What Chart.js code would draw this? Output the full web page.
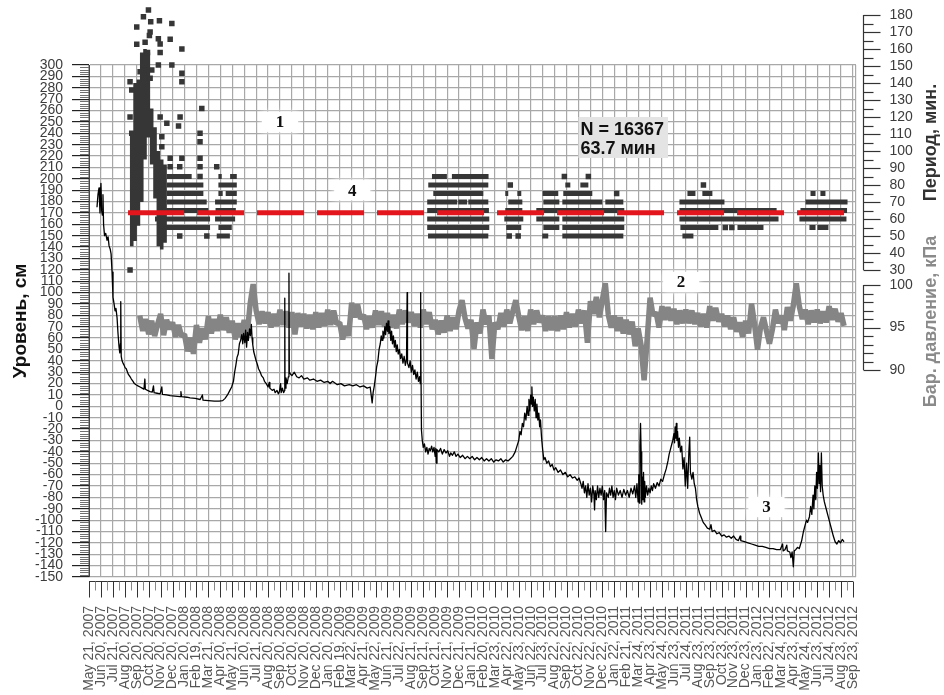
<!DOCTYPE html>
<html>
<head>
<meta charset="utf-8">
<script src="https://cdn.jsdelivr.net/npm/chart.js@4.4.1/dist/chart.umd.min.js"></script>
<style>
html, body { margin: 0; padding: 0; background: #fff; }
canvas { display: block; }
</style>
</head>
<body>
<canvas id="chart" width="944" height="695"></canvas>
<script>
// Month ticks (x = month index from May 21, 2007)
const monthLabels = [
  'May 21, 2007','Jun 20, 2007','Jul 21, 2007','Aug 20, 2007','Sep 20, 2007','Oct 20, 2007','Nov 20, 2007','Dec 20, 2007',
  'Jan 20, 2008','Feb 19, 2008','Mar 21, 2008','Apr 20, 2008','May 21, 2008','Jun 20, 2008','Jul 21, 2008','Aug 20, 2008',
  'Sep 20, 2008','Oct 20, 2008','Nov 20, 2008','Dec 20, 2008',
  'Jan 20, 2009','Feb 19, 2009','Mar 22, 2009','Apr 21, 2009','May 22, 2009','Jun 21, 2009','Jul 22, 2009','Aug 21, 2009',
  'Sep 21, 2009','Oct 21, 2009','Nov 21, 2009','Dec 21, 2009',
  'Jan 21, 2010','Feb 20, 2010','Mar 23, 2010','Apr 22, 2010','May 23, 2010','Jun 22, 2010','Jul 23, 2010','Aug 22, 2010',
  'Sep 22, 2010','Oct 22, 2010','Nov 22, 2010','Dec 22, 2010',
  'Jan 22, 2011','Feb 21, 2011','Mar 24, 2011','Apr 23, 2011','May 24, 2011','Jun 23, 2011','Jul 24, 2011','Aug 23, 2011',
  'Sep 23, 2011','Oct 23, 2011','Nov 23, 2011','Dec 23, 2011',
  'Jan 23, 2012','Feb 22, 2012','Mar 24, 2012','Apr 23, 2012','May 24, 2012','Jun 23, 2012','Jul 24, 2012','Aug 23, 2012',
  'Sep 23, 2012'
];

// Water level, cm: [month index, level]
const levelReadings = [
  [0.67,175],[0.75,186],[0.84,192],[0.92,170],[1.00,196],[1.06,172],[1.12,168],[1.17,186],[1.22,160],[1.30,150],
  [1.40,152],[1.51,146],[1.60,149],[1.68,141],[1.78,138],[1.85,134],[1.93,118],[2.01,96],[2.10,90],[2.18,84],
  [2.26,86],[2.35,78],[2.43,64],[2.52,52],[2.58,47],[2.63,55],[2.66,92],[2.70,44],[2.77,40],[2.85,38],
  [2.95,36],[3.02,34],[3.12,33],[3.19,31],[3.30,28],[3.44,26],[3.55,24],[3.69,22],[3.80,20],[3.94,19],
  [4.10,18],[4.28,17],[4.45,16],[4.60,15],[4.68,24],[4.72,15],[4.90,14],[5.12,13],[5.30,12.5],[5.40,18],
  [5.45,12],[5.70,11.5],[5.96,11],[6.10,17],[6.15,10.5],[6.50,10],[6.80,9.5],[7.20,9],[7.63,8.5],[7.70,13],
  [7.75,8.5],[8.20,8],[8.47,7.5],[8.90,7],[9.31,6],[9.50,10],[9.55,5.5],[10.00,5],[10.50,4.5],[10.90,4.5],
  [11.20,5],[11.40,7],[11.60,10],[11.80,14],[11.95,17],[12.10,22],[12.20,30],[12.30,36],[12.40,43],[12.50,46],
  [12.60,55],[12.70,58],[12.80,63],[12.88,55],[12.95,64],[13.05,56],[13.12,67],[13.20,52],[13.28,65],[13.35,58],
  [13.45,68],[13.52,62],[13.60,72],[13.66,60],[13.72,54],[13.80,48],[13.90,44],[14.00,40],[14.10,37],[14.20,33],
  [14.35,30],[14.45,27],[14.60,25],[14.70,22],[14.85,20],[15.00,17],[15.10,21],[15.15,16],[15.35,14],[15.50,15],
  [15.60,12],[15.75,14],[15.86,11],[15.95,13],[16.05,20],[16.10,12],[16.20,16],[16.30,12],[16.38,14],[16.40,95],
  [16.42,16],[16.50,25],[16.60,20],[16.70,26],[16.75,117],[16.78,30],[16.90,28],[17.00,27],[17.20,30],[17.40,26],
  [17.60,25],[17.80,27],[18.00,24],[18.30,25],[18.50,23],[18.80,24],[19.10,22],[19.40,23],[19.70,21],[20.00,22],
  [20.20,20],[20.40,22],[20.80,19],[21.10,20],[21.40,18],[21.80,19],[22.10,18],[22.40,19],[22.70,17],[23.00,18],
  [23.30,16],[23.55,17],[23.65,9],[23.72,3],[23.80,12],[23.90,18],[24.00,26],[24.10,35],[24.20,40],[24.30,50],
  [24.40,55],[24.48,62],[24.55,58],[24.62,66],[24.70,60],[24.78,70],[24.85,63],[24.92,73],[25.00,66],[25.05,75],
  [25.12,64],[25.20,70],[25.28,58],[25.35,66],[25.42,55],[25.50,62],[25.58,52],[25.66,58],[25.74,48],[25.82,54],
  [25.90,46],[26.00,50],[26.10,42],[26.20,46],[26.30,38],[26.40,44],[26.50,36],[26.60,42],[26.65,100],[26.68,38],
  [26.80,34],[26.90,40],[27.00,30],[27.10,36],[27.20,28],[27.30,32],[27.40,24],[27.50,30],[27.60,22],[27.70,26],
  [27.75,20],[27.77,100],[27.80,60],[27.85,-21],[27.92,-30],[28.00,-36],[28.10,-33],[28.20,-40],[28.30,-36],[28.40,-42],
  [28.50,-37],[28.60,-39],[28.70,-35],[28.80,-40],[28.90,-36],[29.00,-44],[29.05,-37],[29.10,-50],[29.15,-38],[29.30,-40],
  [29.45,-37],[29.60,-42],[29.75,-38],[29.90,-41],[30.05,-39],[30.20,-44],[30.30,-41],[30.45,-43],[30.60,-40],[30.75,-44],
  [30.90,-42],[31.10,-45],[31.30,-43],[31.50,-46],[31.70,-44],[31.90,-46],[32.10,-44],[32.30,-47],[32.50,-45],[32.70,-47],
  [32.90,-45],[33.10,-48],[33.30,-46],[33.50,-48],[33.70,-46],[33.90,-49],[34.10,-47],[34.30,-48],[34.50,-46],[34.70,-49],
  [34.90,-47],[35.10,-48],[35.30,-46],[35.50,-44],[35.70,-40],[35.85,-35],[36.00,-30],[36.10,-22],[36.20,-25],[36.30,-15],
  [36.40,-18],[36.50,-6],[36.60,-12],[36.70,0],[36.78,-8],[36.85,6],[36.92,-4],[37.00,10],[37.06,2],[37.10,17],
  [37.15,0],[37.22,8],[37.30,-4],[37.38,6],[37.45,-10],[37.52,2],[37.60,-12],[37.68,-6],[37.75,-18],[37.82,-12],
  [37.90,-26],[38.00,-38],[38.10,-47],[38.20,-45],[38.35,-50],[38.50,-48],[38.65,-53],[38.80,-51],[38.95,-56],[39.10,-54],
  [39.30,-58],[39.50,-56],[39.70,-60],[39.90,-58],[40.10,-62],[40.30,-60],[40.50,-63],[40.70,-62],[40.90,-65],[41.05,-63],
  [41.20,-68],[41.30,-72],[41.40,-66],[41.50,-76],[41.60,-70],[41.70,-80],[41.80,-68],[41.90,-78],[42.00,-72],[42.10,-84],
  [42.20,-70],[42.30,-78],[42.35,-91],[42.40,-74],[42.50,-82],[42.60,-70],[42.70,-80],[42.80,-72],[42.90,-78],[43.00,-70],
  [43.10,-82],[43.20,-74],[43.28,-110],[43.35,-76],[43.50,-80],[43.60,-72],[43.70,-78],[43.80,-70],[43.90,-80],[44.00,-74],
  [44.10,-82],[44.20,-72],[44.35,-78],[44.50,-74],[44.65,-80],[44.80,-73],[44.95,-78],[45.10,-74],[45.25,-80],[45.40,-72],
  [45.55,-77],[45.70,-70],[45.80,-80],[45.90,-68],[46.00,-84],[46.05,-60],[46.10,-85],[46.15,-35],[46.20,-15],[46.25,-40],
  [46.30,-86],[46.35,-62],[46.40,-82],[46.45,-58],[46.50,-84],[46.55,-66],[46.60,-80],[46.70,-70],[46.80,-78],[46.90,-72],
  [47.00,-76],[47.10,-70],[47.20,-74],[47.30,-68],[47.45,-72],[47.60,-67],[47.75,-70],[47.90,-64],[48.05,-66],[48.20,-60],
  [48.35,-55],[48.50,-48],[48.60,-42],[48.70,-38],[48.80,-34],[48.90,-30],[49.00,-24],[49.05,-32],[49.10,-18],[49.15,-28],
  [49.20,-15],[49.25,-30],[49.30,-22],[49.38,-36],[49.45,-28],[49.55,-40],[49.65,-35],[49.75,-55],[49.85,-45],[49.95,-70],
  [50.05,-50],[50.15,-72],[50.25,-40],[50.32,-27],[50.38,-58],[50.50,-64],[50.60,-58],[50.70,-68],[50.80,-72],[50.90,-82],
  [51.00,-88],[51.15,-94],[51.30,-98],[51.45,-102],[51.60,-104],[51.80,-107],[52.00,-108],[52.10,-104],[52.20,-110],[52.40,-109],
  [52.60,-112],[52.80,-111],[53.00,-114],[53.20,-113],[53.40,-115],[53.60,-114],[53.80,-116],[54.00,-114],[54.20,-117],[54.40,-118],
  [54.55,-114],[54.60,-118],[54.90,-119],[55.20,-120],[55.50,-121],[55.80,-122],[56.10,-123],[56.40,-123],[56.70,-124],[57.00,-125],
  [57.30,-125],[57.60,-126],[57.90,-126],[58.10,-121],[58.15,-127],[58.30,-126],[58.45,-122],[58.50,-127],[58.70,-128],[58.80,-133],
  [58.90,-128],[59.00,-141],[59.08,-127],[59.20,-126],[59.35,-124],[59.50,-125],[59.70,-118],[59.85,-110],[60.00,-104],[60.10,-100],
  [60.20,-102],[60.35,-97],[60.45,-88],[60.55,-95],[60.65,-78],[60.72,-90],[60.80,-70],[60.88,-82],[60.95,-58],[61.02,-72],
  [61.10,-41],[61.16,-68],[61.22,-52],[61.28,-75],[61.35,-41],[61.42,-70],[61.50,-78],[61.60,-84],[61.75,-90],[61.90,-96],
  [62.05,-102],[62.20,-108],[62.35,-114],[62.50,-119],[62.65,-121],[62.80,-118],[62.95,-120],[63.10,-117],[63.25,-119]
];

// Barometric pressure, kPa: readings every quarter month from month 4.25
const pressureStart = 4.25;
const pressureStep = 0.25;
const pressureKPa = [
  96.4, 94.6, 96.0,
  94.2, 95.8, 94.0, 95.4,
  96.6, 94.1, 95.9, 94.8,
  95.6, 93.9, 95.3, 94.0,
  94.2, 92.2, 93.8, 91.9,
  95.3, 93.2, 94.9, 93.6,
  96.3, 94.3, 96.0, 94.6,
  96.5, 94.7, 96.2, 94.4,
  95.8, 93.6, 95.5, 93.9,
  95.9, 94.2, 97.8, 100.1,
  97.0, 95.4, 96.9, 95.5,
  96.8, 95.0, 96.6, 95.2,
  97.1, 95.3, 96.9, 95.0,
  96.8, 94.2, 96.7, 95.1,
  96.6, 94.9, 96.5, 94.8,
  96.8, 95.0, 96.7, 95.2,
  97.1, 95.3, 97.0, 95.4,
  95.6, 93.6, 95.2, 94.0,
  97.9, 96.2, 97.7, 96.0,
  96.5, 94.8, 96.3, 95.0,
  97.0, 95.3, 96.9, 95.1,
  96.7, 95.0, 96.5, 94.9,
  97.1, 95.4, 97.0, 95.6,
  96.8, 95.2, 96.6, 95.0,
  97.1, 95.4, 96.8, 94.8,
  95.9, 94.2, 95.8, 94.4,
  96.4, 94.6, 96.2, 94.8,
  97.0, 98.2, 96.1, 94.9,
  95.9, 92.5, 95.6, 94.3,
  97.1, 95.4, 96.4, 91.3,
  95.6, 94.8, 96.7, 95.1,
  97.1, 95.5, 96.9, 98.2,
  96.3, 94.7, 96.3, 94.6,
  97.1, 95.4, 97.0, 95.6,
  96.4, 94.6, 96.3, 94.7,
  96.3, 94.6, 96.4, 94.8,
  96.8, 95.0, 96.6, 95.1,
  97.1, 95.5, 97.0, 93.2,
  98.1, 96.6, 98.6, 96.2,
  98.2, 100.2, 96.5, 95.0,
  96.4, 94.6, 96.2, 94.3,
  95.9, 94.2, 95.7, 92.8,
  94.9, 92.9, 88.8, 93.5,
  98.5, 96.4, 96.8, 95.0,
  97.5, 95.9, 97.4, 95.8,
  97.2, 95.4, 97.0, 95.5,
  97.1, 95.5, 97.0, 95.4,
  96.7, 95.1, 96.6, 95.0,
  97.5, 95.8, 97.3, 95.7,
  96.6, 95.1, 96.4, 94.8,
  96.2, 94.5, 95.6, 93.9,
  95.8, 94.3, 97.8, 95.4,
  92.4, 95.0, 96.2, 94.6,
  93.1, 94.8, 97.1, 95.5,
  96.4, 94.7, 97.4, 95.8,
  97.6, 100.2, 97.5, 96.0,
  97.1, 95.4, 97.0, 95.6,
  97.1, 95.5, 96.9, 95.6,
  97.5, 95.9, 97.2, 95.7,
  96.7, 95.2
];

// Oscillation periods, min: continuous runs [period, from month, to month]
const periodRuns = [
  [85, 6.51, 8.6], [85, 10.84, 11.12], [85, 11.82, 12.38],
  [80, 6.51, 9.58], [80, 10.84, 12.38],
  [75, 6.51, 9.58], [75, 10.84, 11.2], [75, 11.45, 12.38],
  [70, 6.51, 9.86], [70, 10.56, 12.38],
  [65, 6.3, 10.0], [65, 10.6, 12.3],
  [60, 5.53, 10.14], [60, 10.56, 12.24],
  [55, 6.23, 10.14], [55, 10.84, 11.96],
  [50, 10.7, 11.8],
  [85, 28.73, 29.98], [85, 30.40, 33.47],
  [80, 28.42, 33.45],
  [75, 28.84, 33.03],
  [70, 28.33, 30.85], [70, 30.93, 31.68], [70, 31.77, 33.45],
  [65, 28.33, 33.5],
  [60, 28.33, 33.53],
  [55, 28.33, 33.53],
  [50, 28.4, 33.45],
  [75, 34.87, 35.12], [75, 35.88, 36.21],
  [70, 35.12, 36.3],
  [65, 34.87, 36.3],
  [60, 34.79, 36.38],
  [55, 34.95, 36.21],
  [80, 39.9, 40.32], [80, 41.16, 41.83],
  [75, 38.0, 39.31], [75, 39.73, 42.16],
  [70, 38.06, 39.4], [70, 39.65, 43.0], [70, 43.25, 44.76],
  [65, 37.47, 44.84],
  [60, 37.47, 39.4], [60, 39.65, 44.84],
  [55, 38.06, 39.4], [55, 39.65, 44.84],
  [50, 37.97, 38.47], [50, 39.65, 44.76],
  [75, 50.13, 50.8], [75, 51.38, 52.22],
  [70, 49.46, 53.23],
  [65, 49.46, 57.6],
  [60, 49.46, 57.76],
  [55, 49.54, 52.72], [55, 54.32, 56.5],
  [50, 49.71, 50.63],
  [75, 60.44, 60.86], [75, 61.27, 61.69],
  [70, 60.02, 63.54],
  [65, 59.6, 63.5],
  [60, 59.51, 63.45],
  [55, 60.35, 60.86], [55, 61.02, 61.94]
];

// Dense spread of periods in autumn 2007: [month, lowest period, highest period]
const periodColumns = [
  [3.58, 44, 111], [3.86, 47, 140], [4.14, 56, 142], [4.42, 70, 158], [4.69, 95, 160], [4.97, 108, 158],
  [5.25, 92, 125], [5.53, 72, 114], [5.81, 44, 100], [6.09, 42, 95], [6.37, 46, 92]
];

// Single period estimates: [month, period]
const periodDots = [
  [4.98,183],[4.56,179],[5.17,176],[5.9,176.7],[6.94,175],[4.0,173],[5.12,170],[5.06,168],[5.81,166],[6.8,165.7],
  [4.7,164],[4.0,162.8],[5.96,163],[5.96,158],[7.78,160],[4.9,158],[4.7,154.5],[5.81,150.6],[6.94,150.6],[4.56,147.6],
  [5.26,147.6],[4.28,146.7],[5.12,142.8],[7.78,145.7],[3.44,140.8],[7.78,140.8],[3.58,135.9],[9.45,125],[5.96,120],[7.63,120],
  [6.52,116.3],[7.5,114.7],[3.44,120],[9.3,110.4],[9.3,105.5],[3.58,110.4],[6.1,108.4],[6.1,102.5],[6.8,95.7],[7.78,95.7],
  [9.3,95.7],[6.8,90.8],[7.6,90.8],[9.3,90.8],[10.7,90.8],[9.3,85],[3.44,30],[7.6,50],[9.87,50],
  [35.29,80],[35.2,50],[35.95,50],[39.82,85],[41.83,85],[44.2,75],[51.47,80],[53.3,55],[53.85,55]
];

// Mean period over the record
const sampleCount = 16367;
const meanPeriod = 63.7;
const meanSpan = [3.27, 63.25];

// Axis ticks
const periodTickValues = [30, 40, 50, 60, 70, 80, 90, 100, 110, 120, 130, 140, 150, 160, 170, 180];
const pressureTickValues = [90, 95, 100];

// Curve numbers: [text, month, level]
const curveTags = [['1', 16.0, 250], ['4', 22.05, 190], ['2', 49.6, 109.3], ['3', 56.75, -88.5]];

const SANS = "'Liberation Sans', Arial, sans-serif";
const SERIF = "'Liberation Serif', 'Times New Roman', serif";
const DOT_HALF = 0.23; // half width of a single period square, months

function runsToPoints(runs) {
  const pts = [];
  runs.forEach(([p, a, b]) => { pts.push({ x: a, y: p }, { x: b, y: p }, { x: b, y: null }); });
  return pts;
}
function columnsToPoints(cols) {
  const pts = [];
  cols.forEach(([m, lo, hi]) => { pts.push({ x: m, y: lo }, { x: m, y: hi }, { x: m, y: null }); });
  return pts;
}
function dotsToPoints(dots) {
  const pts = [];
  dots.forEach(([m, p]) => { pts.push({ x: m - DOT_HALF, y: p }, { x: m + DOT_HALF, y: p }, { x: m, y: null }); });
  return pts;
}

function verticalText(c, text, x, y, font, color) {
  c.save();
  c.translate(x, y);
  c.rotate(-Math.PI / 2);
  c.font = font;
  c.fillStyle = color;
  c.textAlign = 'center';
  c.textBaseline = 'middle';
  c.fillText(text, 0, 0);
  c.restore();
}

const decorations = {
  id: 'decorations',
  afterDraw(chart) {
    const c = chart.ctx;
    const area = chart.chartArea;
    const sx = chart.scales.x, sy = chart.scales.y, sp = chart.scales.yPer, sb = chart.scales.yBar;
    c.save();

    // minor ticks of the level axis
    c.strokeStyle = '#707070';
    c.lineWidth = 1;
    for (let v = sy.min; v <= sy.max; v += 2) {
      if (v % 10 === 0) continue;
      const py = Math.round(sy.getPixelForValue(v)) + 0.5;
      c.beginPath(); c.moveTo(area.left - 9, py); c.lineTo(area.left, py); c.stroke();
    }

    // date axis line and ticks
    const axisY = Math.round(area.bottom + 4) + 0.5;
    const lastX = sx.getPixelForValue(monthLabels.length - 1);
    c.strokeStyle = '#333';
    c.beginPath(); c.moveTo(area.left, axisY); c.lineTo(lastX, axisY); c.stroke();
    for (let i = 0; i < monthLabels.length; i++) {
      const px = Math.round(sx.getPixelForValue(i)) + 0.5;
      c.strokeStyle = '#333';
      c.beginPath(); c.moveTo(px, axisY); c.lineTo(px, axisY + 16); c.stroke();
      if (i < monthLabels.length - 1) {
        const hx = Math.round(sx.getPixelForValue(i + 0.5)) + 0.5;
        c.strokeStyle = '#888';
        c.beginPath(); c.moveTo(hx, axisY); c.lineTo(hx, axisY + 9); c.stroke();
      }
    }

    // period axis (right)
    const pMin = periodTickValues[0], pMax = periodTickValues[periodTickValues.length - 1];
    const ax = Math.round(area.right + 7) + 0.5;
    c.strokeStyle = '#333';
    c.lineWidth = 1.2;
    c.beginPath();
    c.moveTo(ax, sp.getPixelForValue(pMax));
    c.lineTo(ax, sp.getPixelForValue(pMin));
    c.stroke();
    for (let v = pMin; v <= pMax; v += 5) {
      const py = Math.round(sp.getPixelForValue(v)) + 0.5;
      const len = v % 10 === 0 ? 17 : 10;
      c.beginPath(); c.moveTo(ax, py); c.lineTo(ax + len, py); c.stroke();
    }
    c.font = '14px ' + SANS;
    c.fillStyle = '#3c3c3c';
    c.textAlign = 'left';
    c.textBaseline = 'middle';
    periodTickValues.forEach(v => c.fillText(String(v), ax + 26, sp.getPixelForValue(v)));

    // pressure axis (right)
    const bTop = pressureTickValues[pressureTickValues.length - 1], bBot = pressureTickValues[0];
    c.beginPath(); c.moveTo(ax, sb.getPixelForValue(bTop)); c.lineTo(ax, sb.getPixelForValue(bBot)); c.stroke();
    for (let v = bBot; v <= bTop; v += 1) {
      const py = Math.round(sb.getPixelForValue(v)) + 0.5;
      const len = v % 5 === 0 ? 17 : 10;
      c.beginPath(); c.moveTo(ax, py); c.lineTo(ax + len, py); c.stroke();
    }
    pressureTickValues.forEach(v => c.fillText(String(v), ax + 26, sb.getPixelForValue(v)));

    // axis titles
    verticalText(c, 'Уровень, см', 21, (area.top + area.bottom) / 2, 'bold 19px ' + SANS, '#111');
    verticalText(c, 'Период, мин.', 931, (sp.getPixelForValue(pMin) + sp.getPixelForValue(pMax)) / 2,
      'bold 18px ' + SANS, '#333');
    verticalText(c, 'Бар. давление, кПа', 931, (sb.getPixelForValue(bTop) + sb.getPixelForValue(bBot)) / 2 - 6,
      'bold 18px ' + SANS, '#8a8a8a');

    // curve numbers
    curveTags.forEach(([t, m, lv]) => {
      const cx = sx.getPixelForValue(m), cy = sy.getPixelForValue(lv);
      c.save();
      c.fillStyle = '#fff';
      c.shadowColor = '#fff';
      c.shadowBlur = 6;
      c.fillRect(cx - 18, cy - 10, 36, 20);
      c.restore();
      c.font = 'bold 17px ' + SERIF;
      c.fillStyle = '#111';
      c.textAlign = 'center';
      c.textBaseline = 'middle';
      c.fillText(t, cx, cy + 1);
    });

    // count and mean period box
    const bx = sx.getPixelForValue(41.0), by = sy.getPixelForValue(254.3);
    const bw = sx.getPixelForValue(48.5) - bx, bh = sy.getPixelForValue(218.3) - by;
    c.fillStyle = '#e4e4e4';
    c.fillRect(bx, by, bw, bh);
    c.fillStyle = '#111';
    c.font = 'bold 18px ' + SANS;
    c.textAlign = 'left';
    c.textBaseline = 'alphabetic';
    c.fillText('N = ' + sampleCount, bx + 2, by + 18);
    c.fillText(meanPeriod.toFixed(1) + ' мин', bx + 2, by + 37);

    c.restore();
  }
};

const dashPattern = [56, 13].concat(...Array(11).fill([47, 13]));

new Chart(document.getElementById('chart').getContext('2d'), {
  type: 'line',
  data: {
    datasets: [
      {
        label: 'Средний период',
        data: meanSpan.map(m => ({ x: m, y: meanPeriod })),
        yAxisID: 'yPer',
        borderColor: '#e3161d',
        borderWidth: 5,
        borderDash: dashPattern,
        borderCapStyle: 'butt',
        pointRadius: 0,
        order: 0,
        clip: false
      },
      {
        label: 'Период (отдельные)',
        data: dotsToPoints(periodDots),
        yAxisID: 'yPer',
        borderColor: '#363636',
        borderWidth: 5.5,
        borderCapStyle: 'butt',
        pointRadius: 0,
        spanGaps: false,
        order: 1,
        clip: false
      },
      {
        label: 'Период',
        data: runsToPoints(periodRuns),
        yAxisID: 'yPer',
        borderColor: '#363636',
        borderWidth: 5,
        borderCapStyle: 'butt',
        pointRadius: 0,
        spanGaps: false,
        order: 2,
        clip: false
      },
      {
        label: 'Период (разброс)',
        data: columnsToPoints(periodColumns),
        yAxisID: 'yPer',
        borderColor: '#363636',
        borderWidth: 3.6,
        borderCapStyle: 'butt',
        pointRadius: 0,
        spanGaps: false,
        order: 2,
        clip: false
      },
      {
        label: 'Уровень',
        data: levelReadings.map(([m, v]) => ({ x: m, y: v })),
        yAxisID: 'y',
        borderColor: '#000',
        borderWidth: 1.3,
        borderJoinStyle: 'round',
        pointRadius: 0,
        order: 3
      },
      {
        label: 'Бар. давление',
        data: pressureKPa.map((v, i) => ({ x: pressureStart + i * pressureStep, y: v })),
        yAxisID: 'yBar',
        borderColor: '#858585',
        borderWidth: 5.5,
        borderJoinStyle: 'bevel',
        pointRadius: 0,
        order: 4
      }
    ]
  },
  options: {
    responsive: false,
    animation: false,
    devicePixelRatio: 1,
    events: [],
    layout: { padding: { top: 65, right: 88, bottom: 0, left: 0 } },
    plugins: { legend: { display: false }, tooltip: { enabled: false } },
    scales: {
      x: {
        type: 'linear',
        position: 'bottom',
        min: 0,
        max: 64.25,
        afterBuildTicks: s => { s.ticks = monthLabels.map((_, i) => ({ value: i })).concat([{ value: 64.25 }]); },
        afterFit: s => { s.height = 118; },
        grid: { color: '#a8a8a8', lineWidth: 1.2, drawTicks: false },
        border: { display: false },
        ticks: {
          autoSkip: false, maxRotation: 90, minRotation: 90, padding: 29,
          color: '#555', font: { family: SANS, size: 14 },
          callback: v => monthLabels[v] ?? ''
        }
      },
      y: {
        type: 'linear',
        position: 'left',
        min: -150,
        max: 300,
        afterFit: s => { s.width = 89; },
        grid: { color: '#a8a8a8', lineWidth: 1.2, tickColor: '#222', tickLength: 17, tickWidth: 1.2 },
        border: { display: true, color: '#444', width: 1 },
        ticks: { stepSize: 10, autoSkip: false, padding: 9, color: '#3c3c3c', font: { family: SANS, size: 14 } }
      },
      yPer: { type: 'linear', display: false, min: -150.6, max: 150.6 },
      yBar: { type: 'linear', display: false, min: 65.65, max: 125.88 }
    }
  },
  plugins: [decorations]
});
</script>
</body>
</html>
